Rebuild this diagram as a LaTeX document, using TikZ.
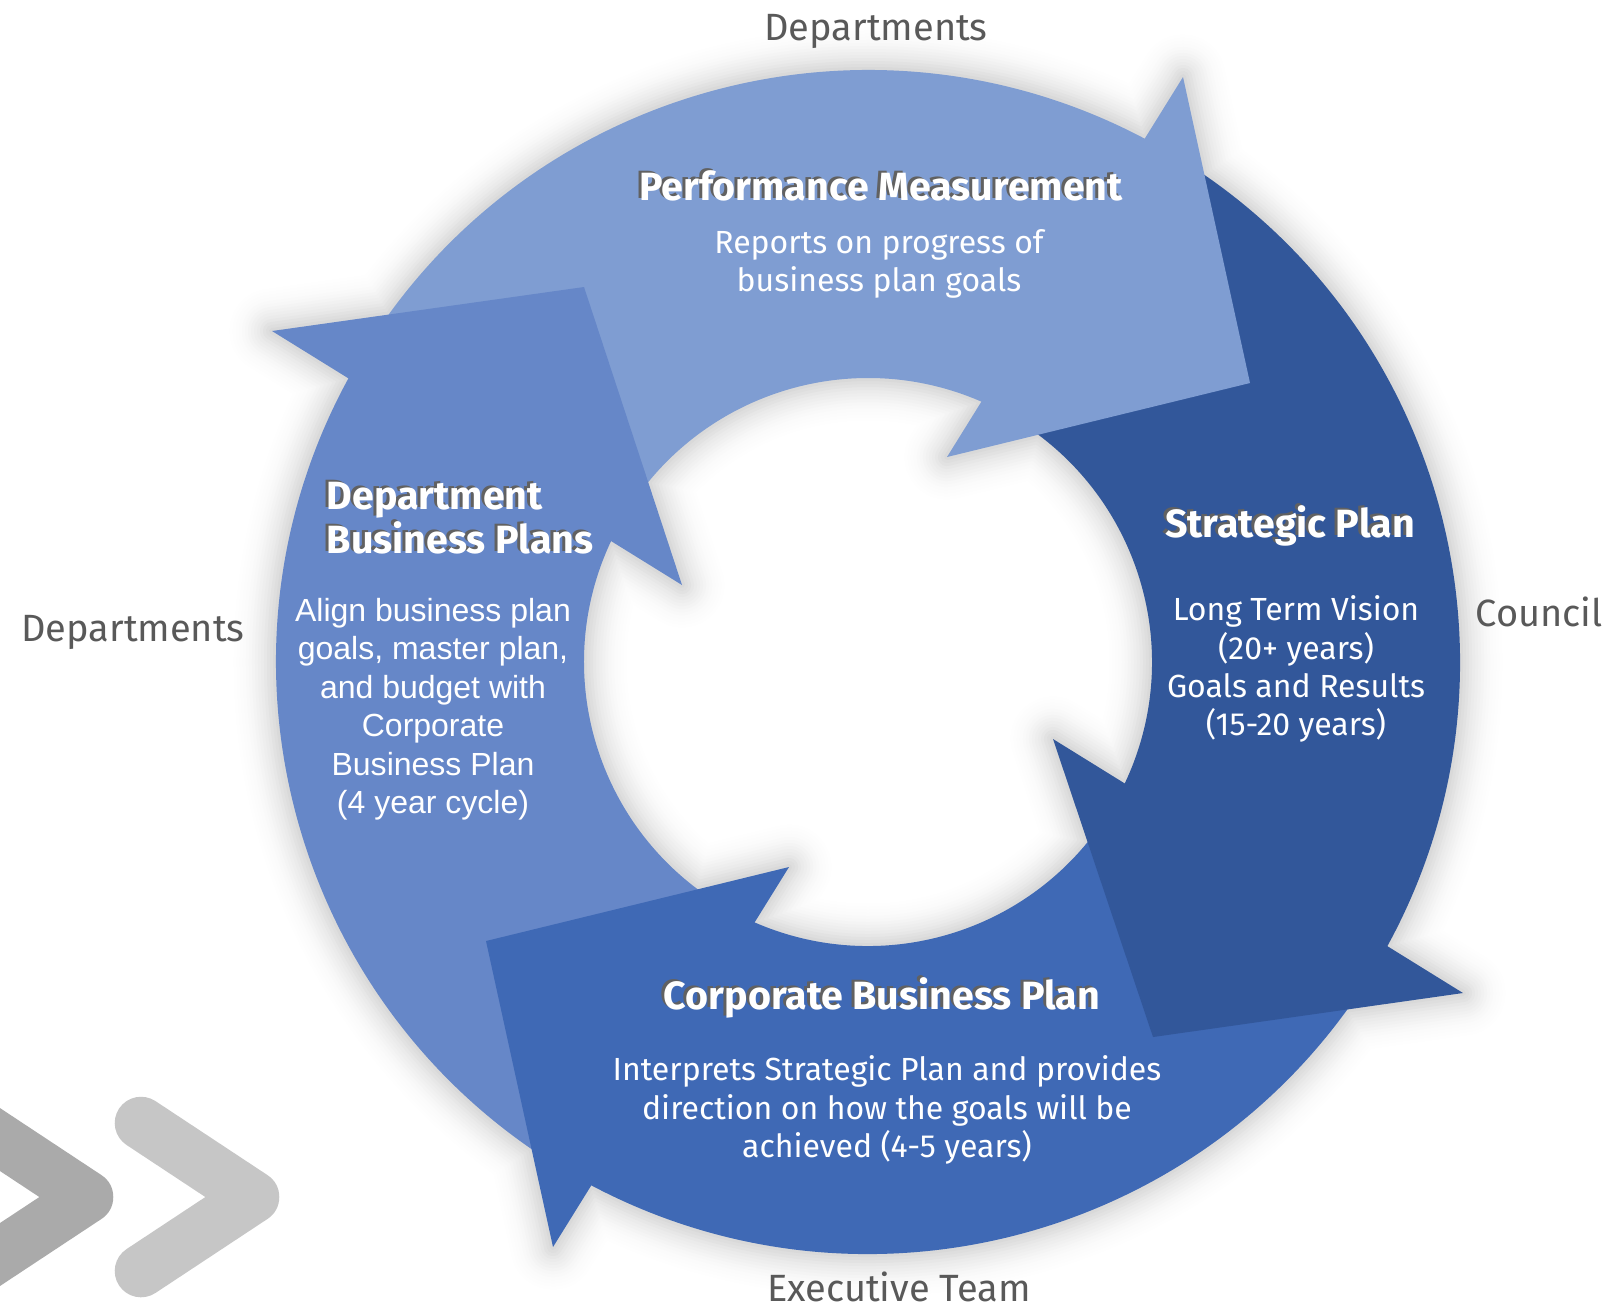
\documentclass[tikz,border=0pt]{standalone}
\usepackage{fontspec}
\setmainfont{Fira Sans}
\newfontfamily\arialf{Liberation Sans}
\definecolor{cPM}{HTML}{7F9DD2}
\definecolor{cSP}{HTML}{32579A}
\definecolor{cCB}{HTML}{3F69B5}
\definecolor{cDB}{HTML}{6687C8}
\definecolor{lblgray}{HTML}{595959}
\definecolor{chevA}{HTML}{AAAAAA}
\definecolor{chevB}{HTML}{C6C6C6}
\begin{document}
\begin{tikzpicture}[x=0.01cm,y=0.01cm,
  ttl/.style={font=\fontsize{11.2}{12.5}\selectfont\bfseries, text=white, inner sep=0pt},
  ttlsh/.style={ttl, text=black!62},
  bodyt/.style={font=\fontsize{9.1}{10.85}\selectfont, text=white, align=center, inner sep=0pt},
  armt/.style={font=\arialf\fontsize{9.1}{10.95}\selectfont, text=white, align=center, inner sep=0pt},
  outl/.style={font=\fontsize{10.8}{12}\selectfont, text=lblgray, inner sep=0pt},
  chev/.style={line width=0.525cm, line cap=round, line join=round}
]
\useasboundingbox (0,0) rectangle (1610,-1311);
\fill[white] (0,0) rectangle (1610,-1311);

\begin{scope}[shift={(868,-662)}]
  % soft shadow
  \foreach \k in {15,14,...,1}{
    \pgfmathsetmacro\p{17*(1-\k/16)^2}
    \draw[line width=\k*0.06cm, color=black!\p, line join=round]
      (0,0) circle[radius=592] (0,0) circle[radius=284]
      (315,585) -- (382,279) -- (79,205) -- cycle
      (595,-331) -- (285,-375) -- (185,-77) -- cycle
      (-315,-585) -- (-382,-279) -- (-79,-205) -- cycle
      (-596,331) -- (-284,375) -- (-186,77) -- cycle;
  }
  % bodies
  \fill[cPM] (148:592) arc[start angle=148, end angle=61.1, radius=592]
     -- (65.5:284) arc[start angle=65.5, end angle=148, radius=284] -- cycle;
  \fill[cSP] (58.5:592) arc[start angle=58.5, end angle=-29.6, radius=592]
     -- (-26.2:284) arc[start angle=-26.2, end angle=58.5, radius=284] -- cycle;
  \fill[cCB] (-32.3:592) arc[start angle=-32.3, end angle=-118.9, radius=592]
     -- (-114.5:284) arc[start angle=-114.5, end angle=-32.3, radius=284] -- cycle;
  \fill[cDB] (238.5:592) arc[start angle=238.5, end angle=150.4, radius=592]
     -- (153.8:284) arc[start angle=153.8, end angle=238.5, radius=284] -- cycle;
  % heads
  \fill[cPM] (315,585) -- (382,279) -- (79,205) -- cycle;
  \fill[cSP] (595,-331) -- (285,-375) -- (185,-77) -- cycle;
  \fill[cCB] (-315,-585) -- (-382,-279) -- (-79,-205) -- cycle;
  \fill[cDB] (-596,331) -- (-284,375) -- (-186,77) -- cycle;
\end{scope}

% chevrons
\draw[chev, chevA] (-25,-1123) -- (87,-1197) -- (-25,-1271);
\draw[chev, chevB] (141,-1123) -- (253,-1197) -- (141,-1271);

% outer labels
\node[outl] (dtop) at (876,-31) {Departments};
\node[outl] (dleft) at (133,-632) {Departments};
\node[outl] (council) at (1539,-612) {Council};
\node[outl] (exec) at (899,-1287) {Executive Team};

% titles
\node[ttlsh] (pm-s) at (878,-184) {Performance Measurement};
\node[ttl] (pm) at (881,-186) {Performance Measurement};
\node[ttlsh] (sp-s) at (1287,-524) {Strategic Plan};
\node[ttl] (sp) at (1290,-526) {Strategic Plan};
\node[ttlsh] (cb-s) at (879,-996) {Corporate Business Plan};
\node[ttl] (cb) at (882,-998) {Corporate Business Plan};
\node[ttlsh, align=left, anchor=west] (db-s) at (323,-516) {Department\\Business Plans};
\node[ttl, align=left, anchor=west] (db) at (326,-518) {Department\\Business Plans};

% body texts
\node[bodyt] (pm-b) at (879,-264) {Reports on progress of\\business plan goals};
\node[bodyt] (sp-b) at (1296,-669) {Long Term Vision\\(20+ years)\\Goals and Results\\(15-20 years)};
\node[bodyt] (cb-b) at (887,-1110) {Interprets Strategic Plan and provides\\direction on how the goals will be\\achieved (4-5 years)};
\node[armt] (db-b) at (433,-709) {Align business plan\\goals, master plan,\\and budget with\\Corporate\\Business Plan\\(4 year cycle)};
\end{tikzpicture}
\end{document}
